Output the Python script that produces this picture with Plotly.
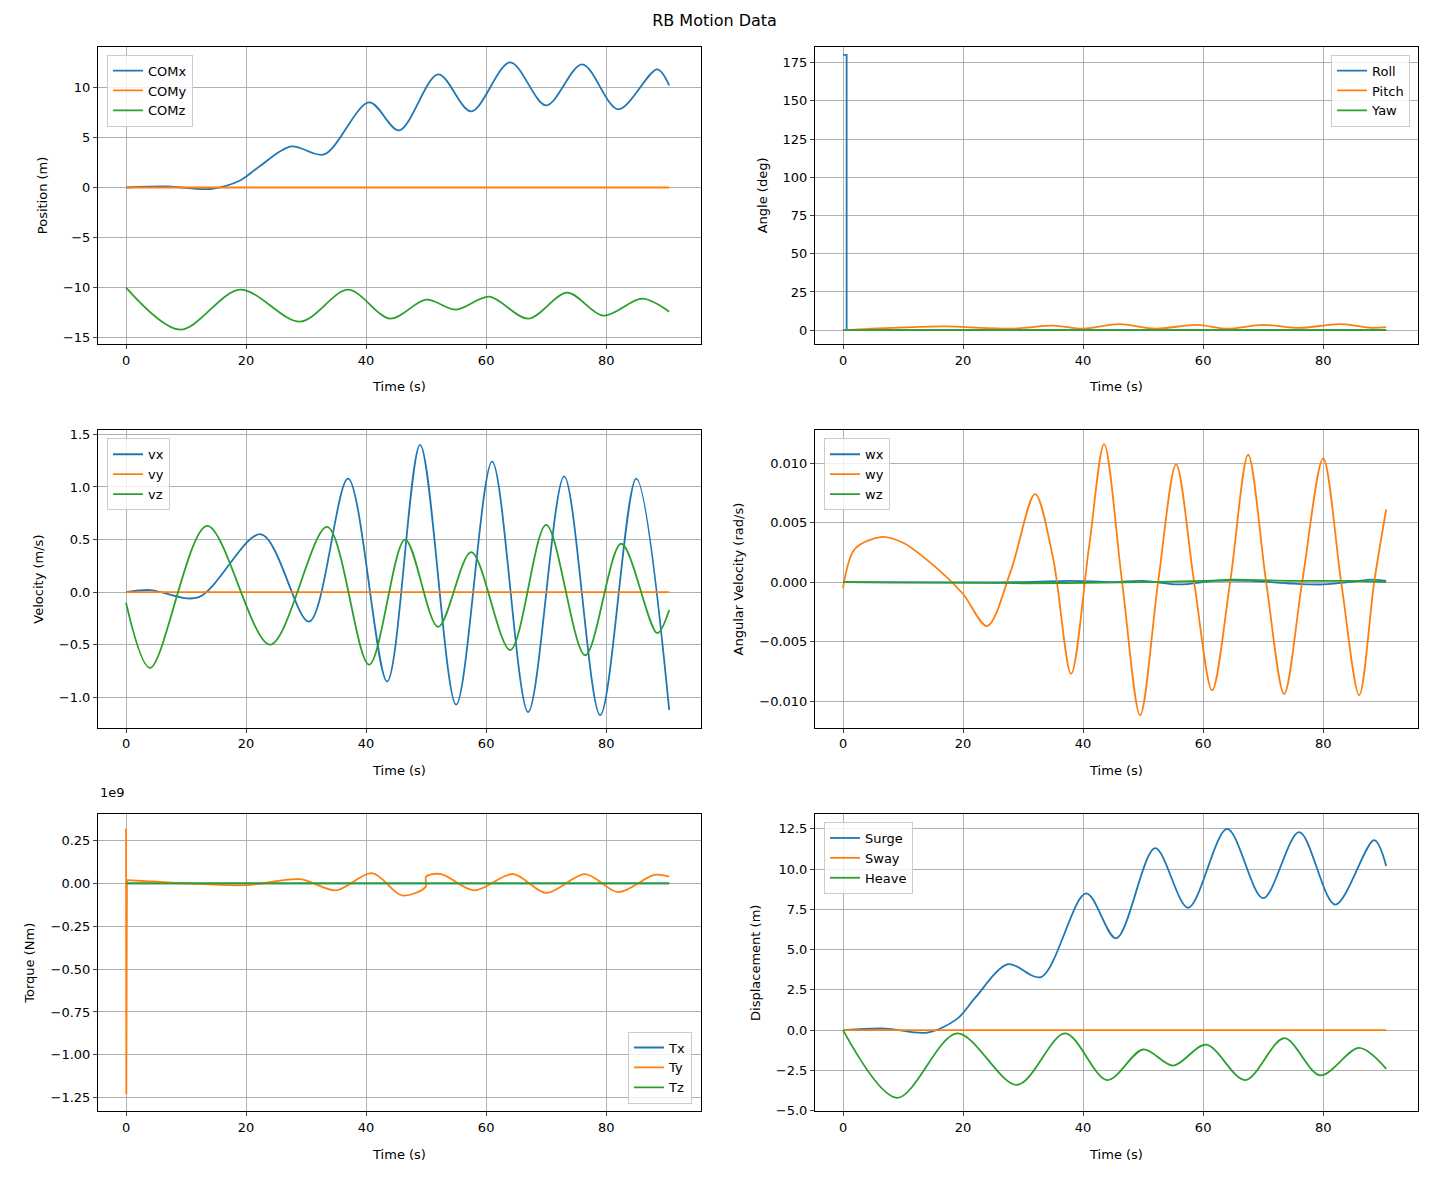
import plotly.graph_objects as go

C1, C2, C3 = "#1f77b4", "#ff7f0e", "#2ca02c"

# Position / displacement
comx_t = [0, 7, 14, 19, 22, 27.5, 33, 40.5, 45.5, 52, 57.5, 64, 70, 76, 82, 88.5, 90.5]
comx_v = [0, 0.1, -0.15, 0.7, 2.0, 4.1, 3.3, 8.5, 5.7, 11.3, 7.6, 12.5, 8.2, 12.3, 7.8, 11.8, 10.2]
comz_t = [0, 9, 19, 29, 37, 44, 50, 55, 60.5, 67, 73.5, 79.5, 86, 90.5]
comz_v = [-10, -14.2, -10.2, -13.4, -10.2, -13.1, -11.2, -12.2, -10.9, -13.1, -10.5, -12.8, -11.1, -12.4]
heave_v = [0, -4.2, -0.2, -3.4, -0.2, -3.1, -1.2, -2.2, -0.9, -3.1, -0.5, -2.8, -1.1, -2.4]
flat_t = [0, 90.5]
flat_v = [0, 0]

# Angles
roll_t = [0, 0.6, 0.6, 90.5]
roll_v = [180, 180, 0, 0]
pitch_t = [0, 8, 17, 28, 35, 40, 46, 52, 59, 64, 70, 76, 83, 88, 90.5]
pitch_v = [0, 1.5, 2.5, 1.0, 3.0, 1.0, 4.0, 1.0, 3.5, 1.0, 3.5, 1.5, 4.0, 1.5, 2.0]

# Velocities
vx_t = [0, 4, 12, 22.5, 30.5, 37, 43.5, 49, 55, 61, 67, 73, 79, 85, 90.5]
vx_v = [0, 0.02, -0.05, 0.55, -0.28, 1.08, -0.85, 1.4, -1.07, 1.24, -1.14, 1.1, -1.17, 1.08, -1.12]
vz_t = [0, 4, 13.5, 24, 33.5, 40.5, 46.5, 52, 57.5, 64, 70, 76.5, 82.5, 88.5, 90.5]
vz_v = [-0.1, -0.72, 0.63, -0.5, 0.62, -0.69, 0.5, -0.33, 0.38, -0.55, 0.64, -0.6, 0.46, -0.39, -0.17]

# Angular velocities
wy_t = [0, 2, 6.5, 10, 16, 20, 24, 28, 32, 35, 38, 41, 43.5, 46.5, 49.5, 52.5, 55.5, 58.5,
        61.5, 64.5, 67.5, 70.5, 73.5, 76.5, 80, 83, 86, 88.5, 90.5]
wy_v = [-0.0005, 0.0028, 0.0038, 0.0033, 0.001, -0.001, -0.0037, 0.001, 0.0074, 0.002, -0.0077,
        0.003, 0.0116, 0.0, -0.0112, 0.0, 0.0099, 0.0, -0.0091, 0.0, 0.0107, 0.0, -0.0094, 0.0,
        0.0104, 0.0, -0.0095, 0.0, 0.0061]
wx_t = [0, 30, 38, 45, 50, 56, 62, 68, 74, 80, 86, 88, 90.5]
wx_v = [0, 0, 0.0001, 0, 0.0001, -0.0002, 0.0001, 0.0001, -0.0001, -0.0002, 0.0001, 0.0002, 0.0001]
wz_t = [0, 30, 50, 60, 65, 75, 85, 90.5]
wz_v = [0, -0.0001, 0, 0.0001, 0.0002, 0.0001, 0.0001, 0]

# Torque (units of 1e9 Nm)
ty_spike_t = [0, 0.05, 0.15]
ty_spike_v = [0.32, -1.23, 0.02]
ty_t = [0.15, 5, 10, 20, 29, 35, 41, 46, 49.9, 50.0, 52.5, 58, 64.5, 70, 76.5, 82, 88, 90.5]
ty_v = [0.02, 0.01, 0, -0.01, 0.025, -0.04, 0.06, -0.07, -0.02, 0.04, 0.055, -0.04,
        0.055, -0.055, 0.055, -0.05, 0.05, 0.04]

W, H, OX, OY = 1413, 1168, 8, 8
def px(x): return (x - OX) / W
def py(y): return 1 - (y - OY) / H

fig = go.Figure()
dom_x = [[px(98), px(701)], [px(815), px(1418)]]
dom_y = [[py(344), py(44)], [py(731), py(431)], [py(1118), py(818)]]

panels = [
    ("Position (m)", [-15.64, 14.06], dict(tick0=-15, dtick=5), [
        ("COMx", comx_t, comx_v, C1, "spline"), ("COMy", flat_t, flat_v, C2, "linear"),
        ("COMz", comz_t, comz_v, C3, "spline")], dict(x=px(107), y=py(52), xanchor="left", yanchor="top")),
    ("Angle (deg)", [-9.1, 185.4], dict(tick0=0, dtick=25), [
        ("Roll", roll_t, roll_v, C1, "linear"), ("Pitch", pitch_t, pitch_v, C2, "spline"),
        ("Yaw", flat_t, flat_v, C3, "linear")], dict(x=px(1410), y=py(52), xanchor="right", yanchor="top")),
    ("Velocity (m/s)", [-1.29, 1.538], dict(tick0=-1, dtick=0.5, tickformat=".1f"), [
        ("vx", vx_t, vx_v, C1, "spline"), ("vy", flat_t, flat_v, C2, "linear"),
        ("vz", vz_t, vz_v, C3, "spline")], dict(x=px(107), y=py(439), xanchor="left", yanchor="top")),
    ("Angular Velocity (rad/s)", [-0.01225, 0.01275], dict(tick0=-0.01, dtick=0.005, tickformat=".3f"), [
        ("wx", wx_t, wx_v, C1, "spline"), ("wy", wy_t, wy_v, C2, "spline"),
        ("wz", wz_t, wz_v, C3, "spline")], dict(x=px(824), y=py(439), xanchor="left", yanchor="top")),
    ("Torque (Nm)", [-1.331, 0.405], dict(tick0=-1.25, dtick=0.25, tickformat=".2f"), [
        ("Tx", flat_t, flat_v, C1, "linear"), ("Ty", ty_t, ty_v, C2, "spline"),
        ("Tz", flat_t, flat_v, C3, "linear")], dict(x=px(692), y=py(1110), xanchor="right", yanchor="bottom")),
    ("Displacement (m)", [-5.05, 13.42], dict(tick0=-5, dtick=2.5, tickformat=".1f"), [
        ("Surge", comx_t, comx_v, C1, "spline"), ("Sway", flat_t, flat_v, C2, "linear"),
        ("Heave", comz_t, heave_v, C3, "spline")], dict(x=px(824), y=py(826), xanchor="left", yanchor="top")),
]

font = dict(family="DejaVu Sans", size=13, color="black")
for i, (ytitle, yr, ytk, series, leg) in enumerate(panels):
    r, c = divmod(i, 2)
    n = "" if i == 0 else str(i + 1)
    lname = "legend" + n
    for name, t, v, col, shape in series:
        fig.add_trace(go.Scatter(x=t, y=v, name=name, mode="lines",
                                 line=dict(color=col, width=1.8, shape=shape, smoothing=0.9),
                                 xaxis="x" + n, yaxis="y" + n, legend=lname))
        if name == "Ty":
            fig.add_trace(go.Scatter(x=ty_spike_t, y=ty_spike_v, mode="lines", showlegend=False,
                                     line=dict(color=col, width=1.8), xaxis="x" + n, yaxis="y" + n))
    ax = dict(showline=True, linecolor="black", mirror=True, ticks="outside", ticklen=4,
              showgrid=True, gridcolor="#b0b0b0", gridwidth=0.8, zeroline=False, tickfont=font)
    fig.layout["xaxis" + n] = dict(ax, domain=dom_x[c], anchor="y" + n, range=[-4.67, 95.8],
                                   tick0=0, dtick=20, title=dict(text="Time (s)", font=font, standoff=15))
    fig.layout["yaxis" + n] = dict(ax, domain=dom_y[r], anchor="x" + n, range=yr,
                                   title=dict(text=ytitle, font=font, standoff=12), **ytk)
    fig.layout[lname] = dict(leg, bgcolor="rgba(255,255,255,0.8)", bordercolor="#cccccc",
                             borderwidth=1, font=font, tracegroupgap=0)

fig.add_annotation(text="1e9", x=px(98), y=py(806), xref="paper", yref="paper",
                   xanchor="left", yanchor="bottom", showarrow=False, font=font)
fig.update_layout(width=W, height=H, margin=dict(l=0, r=0, t=0, b=0),
                  plot_bgcolor="white", paper_bgcolor="white",
                  title=dict(text="RB Motion Data", x=0.5, y=py(20), xanchor="center", yanchor="middle",
                             font=dict(family="DejaVu Sans", size=16, color="black")))
fig.write_html("out.html")
